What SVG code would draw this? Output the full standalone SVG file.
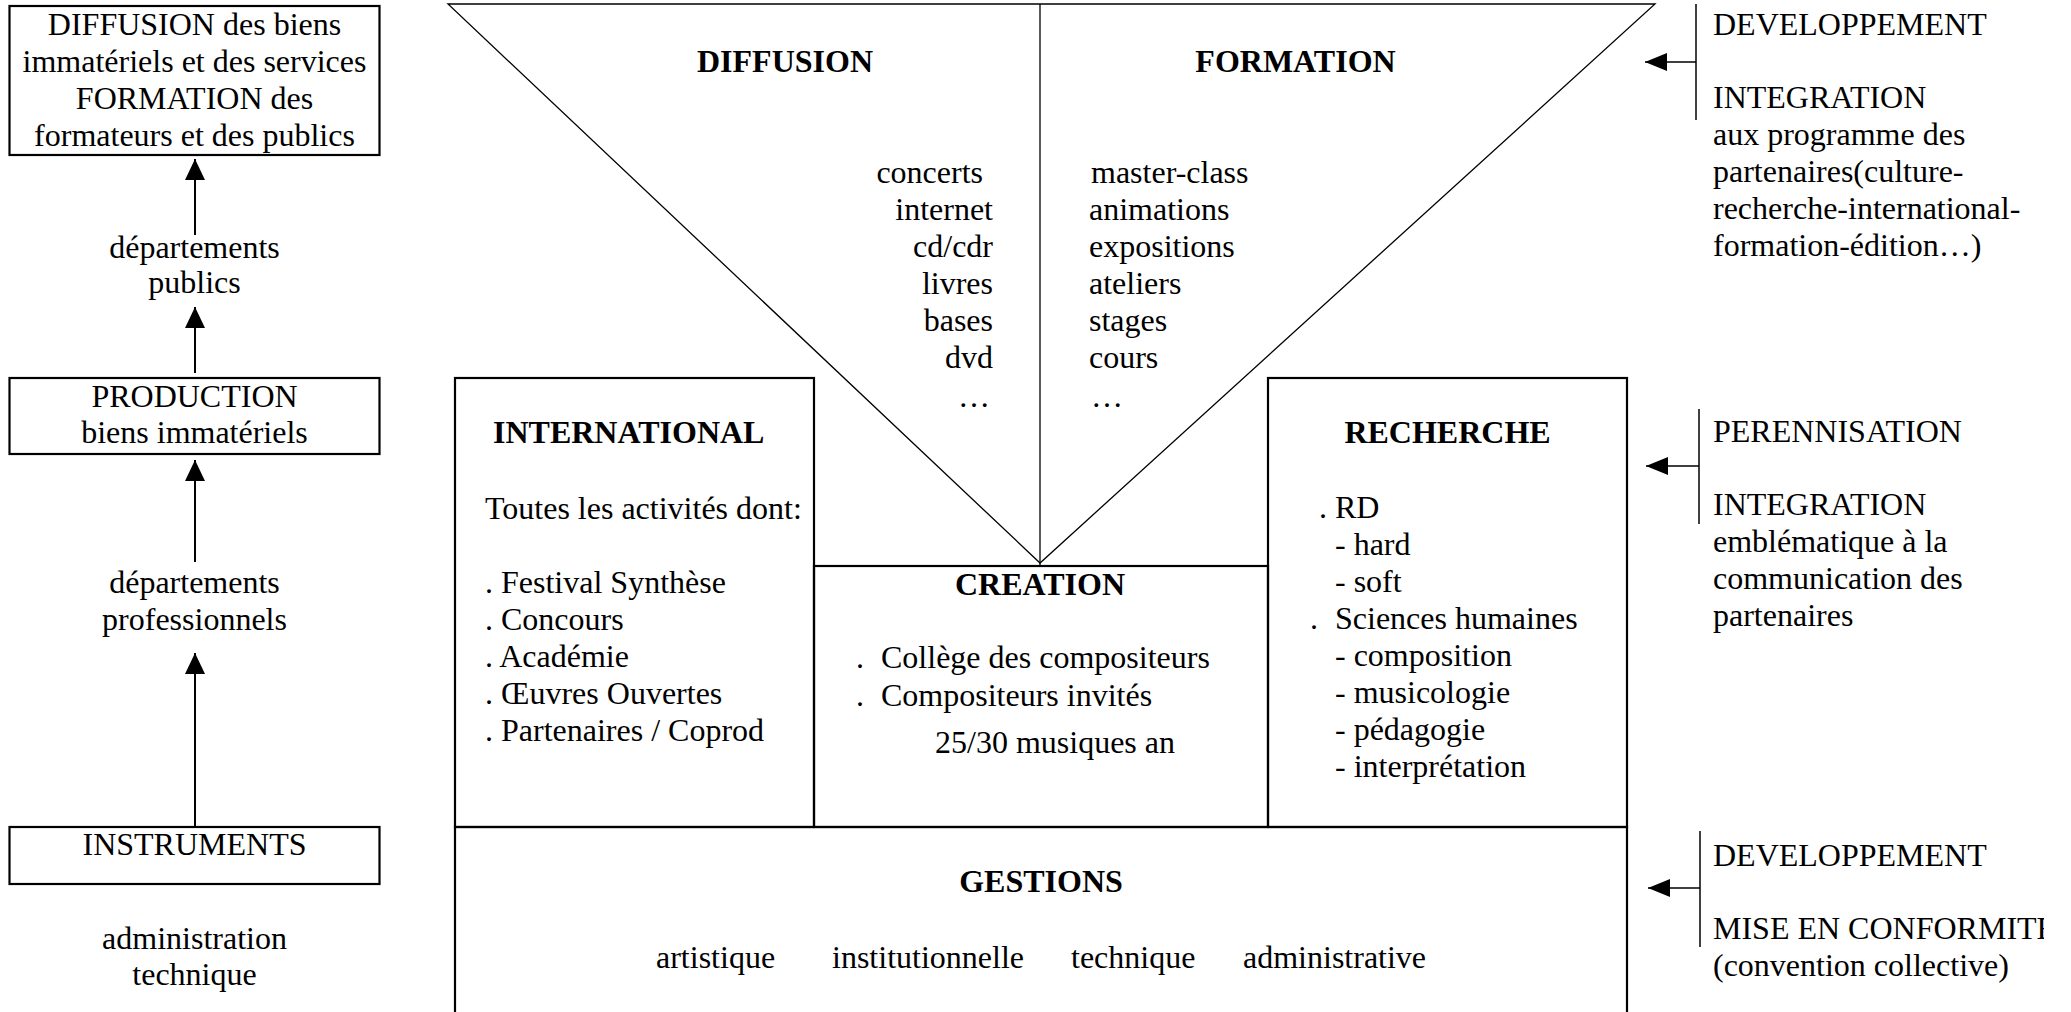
<svg xmlns="http://www.w3.org/2000/svg" width="2071" height="1012" viewBox="0 0 2071 1012">
<style>
text{font-family:"Liberation Serif","Times New Roman",serif;font-size:32px;fill:#000}
.b{font-weight:bold}
.m{text-anchor:middle}
.e{text-anchor:end}
.box{fill:none;stroke:#000;stroke-width:2.2}
.thin{fill:none;stroke:#000;stroke-width:1.3}
.arr{stroke:#000;stroke-width:2;fill:none}
.arr2{stroke:#000;stroke-width:1.5;fill:none}
</style>
<defs>
<marker id="ah" markerUnits="userSpaceOnUse" markerWidth="21" markerHeight="20" refX="21" refY="10" orient="auto" viewBox="0 0 21 20"><path d="M0,0 L21,10 L0,20 z" fill="#000"/></marker>
<marker id="ah2" markerUnits="userSpaceOnUse" markerWidth="22" markerHeight="18" refX="22" refY="9" orient="auto" viewBox="0 0 22 18"><path d="M0,0 L22,9 L0,18 z" fill="#000"/></marker>
<clipPath id="clipR"><rect x="1700" y="900" width="344" height="60"/></clipPath>
</defs>
<rect width="2071" height="1012" fill="#fff"/>

<g id="node-diffusion-formation">
<rect class="box" x="9.5" y="6" width="370" height="149"/>
<text class="m" x="194.5" y="35">DIFFUSION des biens</text>
<text class="m" x="194.5" y="72">immatériels et des services</text>
<text class="m" x="194.5" y="109">FORMATION des</text>
<text class="m" x="194.5" y="146">formateurs et des publics</text>
</g>
<g id="label-departements-publics">
<text class="m" x="194.5" y="258">départements</text>
<text class="m" x="194.5" y="293">publics</text>
</g>
<g id="node-production">
<rect class="box" x="9.5" y="378" width="370" height="76"/>
<text class="m" x="194.5" y="407">PRODUCTION</text>
<text class="m" x="194.5" y="443">biens immatériels</text>
</g>
<g id="label-departements-professionnels">
<text class="m" x="194.5" y="593">départements</text>
<text class="m" x="194.5" y="630">professionnels</text>
</g>
<g id="node-instruments">
<rect class="box" x="9.5" y="827" width="370" height="57"/>
<text class="m" x="194.5" y="855">INSTRUMENTS</text>
</g>
<g id="label-administration">
<text class="m" x="194.5" y="949">administration</text>
<text class="m" x="194.5" y="985">technique</text>
</g>

<g id="node-triangle">
<path class="thin" d="M448,4 L1655,4 L1040,563 Z"/>
<line class="thin" x1="1040" y1="4" x2="1040" y2="565"/>
<text class="b m" x="785" y="72">DIFFUSION</text>
<text class="b m" x="1295.5" y="72">FORMATION</text>
<text class="e" x="983" y="183">concerts</text>
<text class="e" x="993" y="220">internet</text>
<text class="e" x="993" y="257">cd/cdr</text>
<text class="e" x="993" y="294">livres</text>
<text class="e" x="993" y="331">bases</text>
<text class="e" x="993" y="368">dvd</text>
<text class="e" x="990" y="407">…</text>
<text x="1091" y="183">master-class</text>
<text x="1089" y="220">animations</text>
<text x="1089" y="257">expositions</text>
<text x="1089" y="294">ateliers</text>
<text x="1089" y="331">stages</text>
<text x="1089" y="368">cours</text>
<text x="1091" y="407">…</text>
</g>

<g id="node-international">
<rect class="box" x="455" y="378" width="359" height="449"/>
<text class="b" x="493" y="443">INTERNATIONAL</text>
<text x="485" y="519">Toutes les activités dont:</text>
<text x="485" y="593">. Festival Synthèse</text>
<text x="485" y="630">. Concours</text>
<text x="485" y="667">. Académie</text>
<text x="485" y="704">. Œuvres Ouvertes</text>
<text x="485" y="741">. Partenaires / Coprod</text>
</g>

<g id="node-creation">
<rect class="box" x="814" y="566" width="454" height="261"/>
<text class="b m" x="1040" y="595">CREATION</text>
<text x="856" y="668">.<tspan x="881">Collège des compositeurs</tspan></text>
<text x="856" y="706">.<tspan x="881">Compositeurs invités</tspan></text>
<text x="935" y="753">25/30 musiques an</text>
</g>

<g id="node-recherche">
<rect class="box" x="1268" y="378" width="359" height="449"/>
<text class="b m" x="1447.5" y="443">RECHERCHE</text>
<text x="1319" y="518">. RD</text>
<text x="1335" y="555">- hard</text>
<text x="1335" y="592">- soft</text>
<text x="1310" y="629">.<tspan x="1335">Sciences humaines</tspan></text>
<text x="1335" y="666">- composition</text>
<text x="1335" y="703">- musicologie</text>
<text x="1335" y="740">- pédagogie</text>
<text x="1335" y="777">- interprétation</text>
</g>

<g id="node-gestions">
<rect class="box" x="455" y="827" width="1172" height="200"/>
<text class="b m" x="1041" y="892">GESTIONS</text>
<text x="656" y="968">artistique</text>
<text x="832" y="968">institutionnelle</text>
<text x="1071" y="968">technique</text>
<text x="1243" y="968">administrative</text>
</g>

<g id="node-developpement-integration">
<line class="arr2" x1="1696" y1="4" x2="1696" y2="120"/>
<text x="1713" y="35">DEVELOPPEMENT</text>
<text x="1713" y="108">INTEGRATION</text>
<text x="1713" y="145">aux programme des</text>
<text x="1713" y="182">partenaires(culture-</text>
<text x="1713" y="219">recherche-international-</text>
<text x="1713" y="256">formation-édition…)</text>
</g>
<g id="node-perennisation-integration">
<line class="arr2" x1="1699" y1="409" x2="1699" y2="524"/>
<text x="1713" y="442">PERENNISATION</text>
<text x="1713" y="515">INTEGRATION</text>
<text x="1713" y="552">emblématique à la</text>
<text x="1713" y="589">communication des</text>
<text x="1713" y="626">partenaires</text>
</g>
<g id="node-developpement-conformite">
<line class="arr2" x1="1700" y1="831" x2="1700" y2="947"/>
<text x="1713" y="866">DEVELOPPEMENT</text>
<text x="1713" y="939" clip-path="url(#clipR)">MISE EN CONFORMITE</text>
<text x="1713" y="976">(convention collective)</text>
</g>

<g id="connectors">
<line class="arr" x1="195" y1="235" x2="195" y2="159" marker-end="url(#ah)"/>
<line class="arr" x1="195" y1="373" x2="195" y2="307" marker-end="url(#ah)"/>
<line class="arr" x1="195" y1="562" x2="195" y2="460" marker-end="url(#ah)"/>
<line class="arr" x1="195" y1="826" x2="195" y2="653" marker-end="url(#ah)"/>
<line class="arr2" x1="1696" y1="62" x2="1645" y2="62" marker-end="url(#ah2)"/>
<line class="arr2" x1="1699" y1="466" x2="1646" y2="466" marker-end="url(#ah2)"/>
<line class="arr2" x1="1700" y1="888" x2="1648" y2="888" marker-end="url(#ah2)"/>
</g>
</svg>
